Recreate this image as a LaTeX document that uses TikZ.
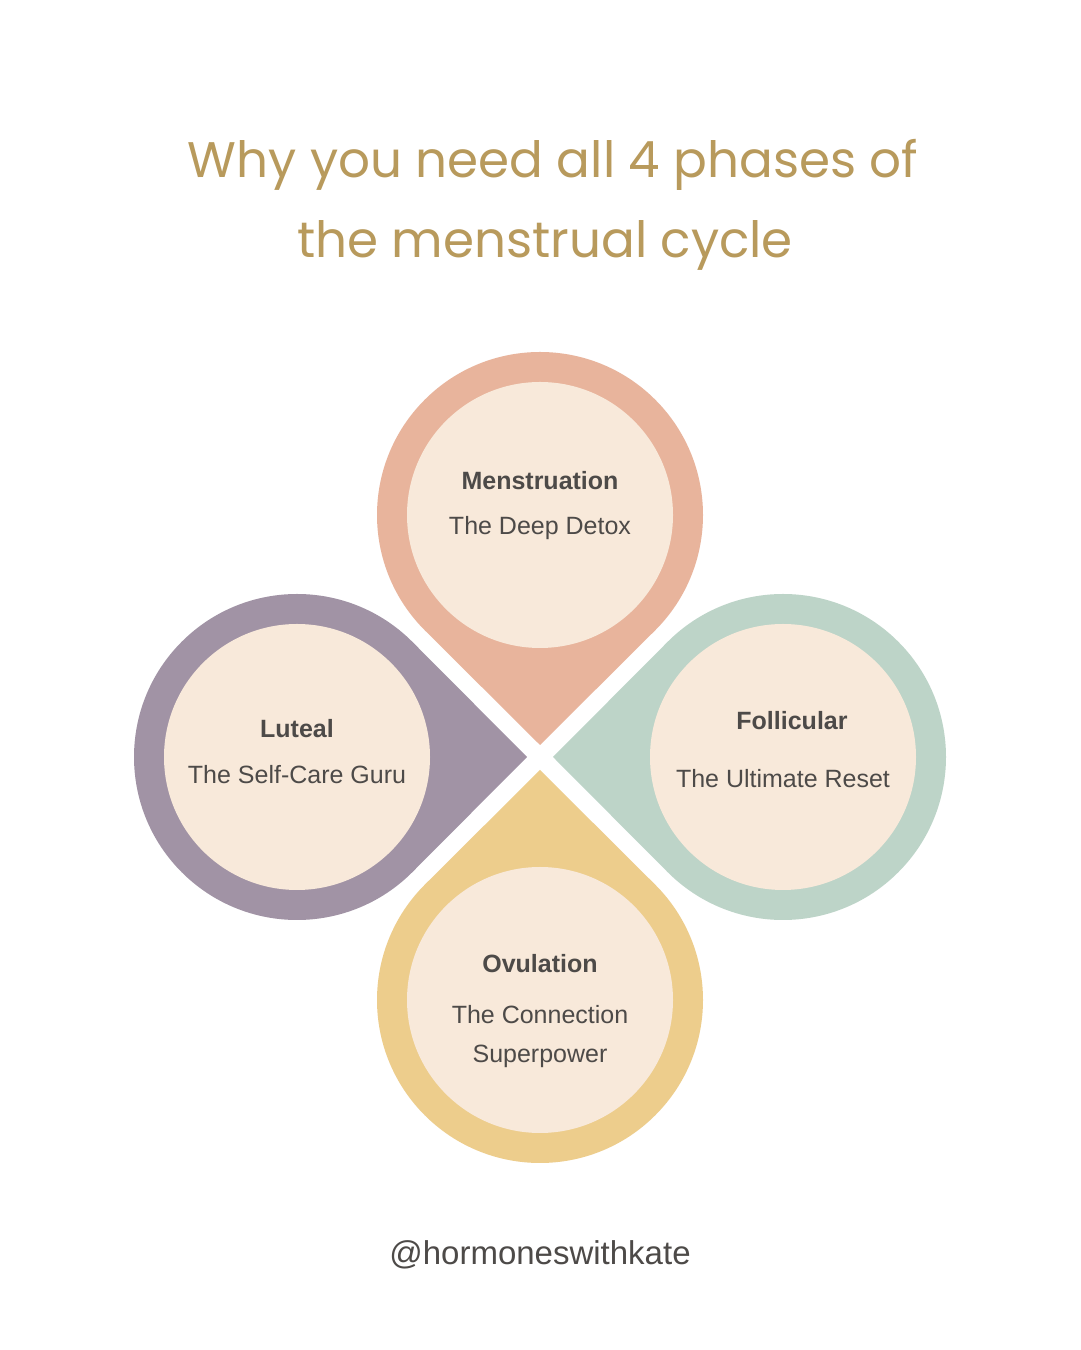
\documentclass[tikz,border=0pt]{standalone}
\usepackage{fontspec}
\setmainfont{Liberation Sans}
\newfontfamily\titlefont{Poppins}
\usetikzlibrary{calc}
\definecolor{mens}{HTML}{E8B49C}
\definecolor{foll}{HTML}{BDD4C8}
\definecolor{lute}{HTML}{A193A5}
\definecolor{ovul}{HTML}{EDCD8C}
\definecolor{inner}{HTML}{F8E9DA}
\definecolor{gold}{HTML}{B89A5C}
\definecolor{txt}{HTML}{4D4A48}
\begin{document}
\begin{tikzpicture}[x=1pt,y=1pt,
  head/.style={font=\fontsize{25}{30}\selectfont\bfseries,text=txt},
  sub/.style={font=\fontsize{25}{39}\selectfont,text=txt,align=center},
  innerc/.style={fill=inner,draw=none}]
\fill[white] (0,0) rectangle (1080,1350);
\useasboundingbox (0,0) rectangle (1080,1350);
\def\R{163}
\def\r{133}
% teardrop: center, tip dir
\newcommand{\tear}[4]{%
  \fill[#4] ($(#1)+(#2:230)$) -- ($(#1)+(#2+45:\R)$) arc[start angle=#2+45,end angle=#2+315,radius=\R] -- cycle;
  \fill[innerc] (#1) circle[radius=\r];}
\coordinate (cm) at (540,835);
\coordinate (cf) at (783,593);
\coordinate (cl) at (297,593);
\coordinate (co) at (540,350);
\tear{cm}{-90}{}{mens}
\tear{cf}{180}{}{foll}
\tear{cl}{0}{}{lute}
\tear{co}{90}{}{ovul}
\node[font=\titlefont\fontsize{50}{60}\selectfont,text=gold] (t1) at (553,1185) {Why you need all 4 phases of};
\node[font=\titlefont\fontsize{50}{60}\selectfont,text=gold] (t2) at (545,1105) {the menstrual cycle};
\node[head] (mh) at (540,869) {Menstruation};
\node[sub] (ms) at (540,822) {The Deep Detox};
\node[head] (fh) at (792,629) {Follicular};
\node[sub] (fs) at (783,571) {The Ultimate Reset};
\node[head] (lh) at (297,621) {Luteal};
\node[sub] (ls) at (297,575) {The Self-Care Guru};
\node[head] (oh) at (540,386) {Ovulation};
\node[sub] (os) at (540,313) {The Connection\\Superpower};
\node[font=\fontsize{33}{40}\selectfont,text=txt] (hd) at (540,95) {@hormoneswithkate};
\end{tikzpicture}
\end{document}
